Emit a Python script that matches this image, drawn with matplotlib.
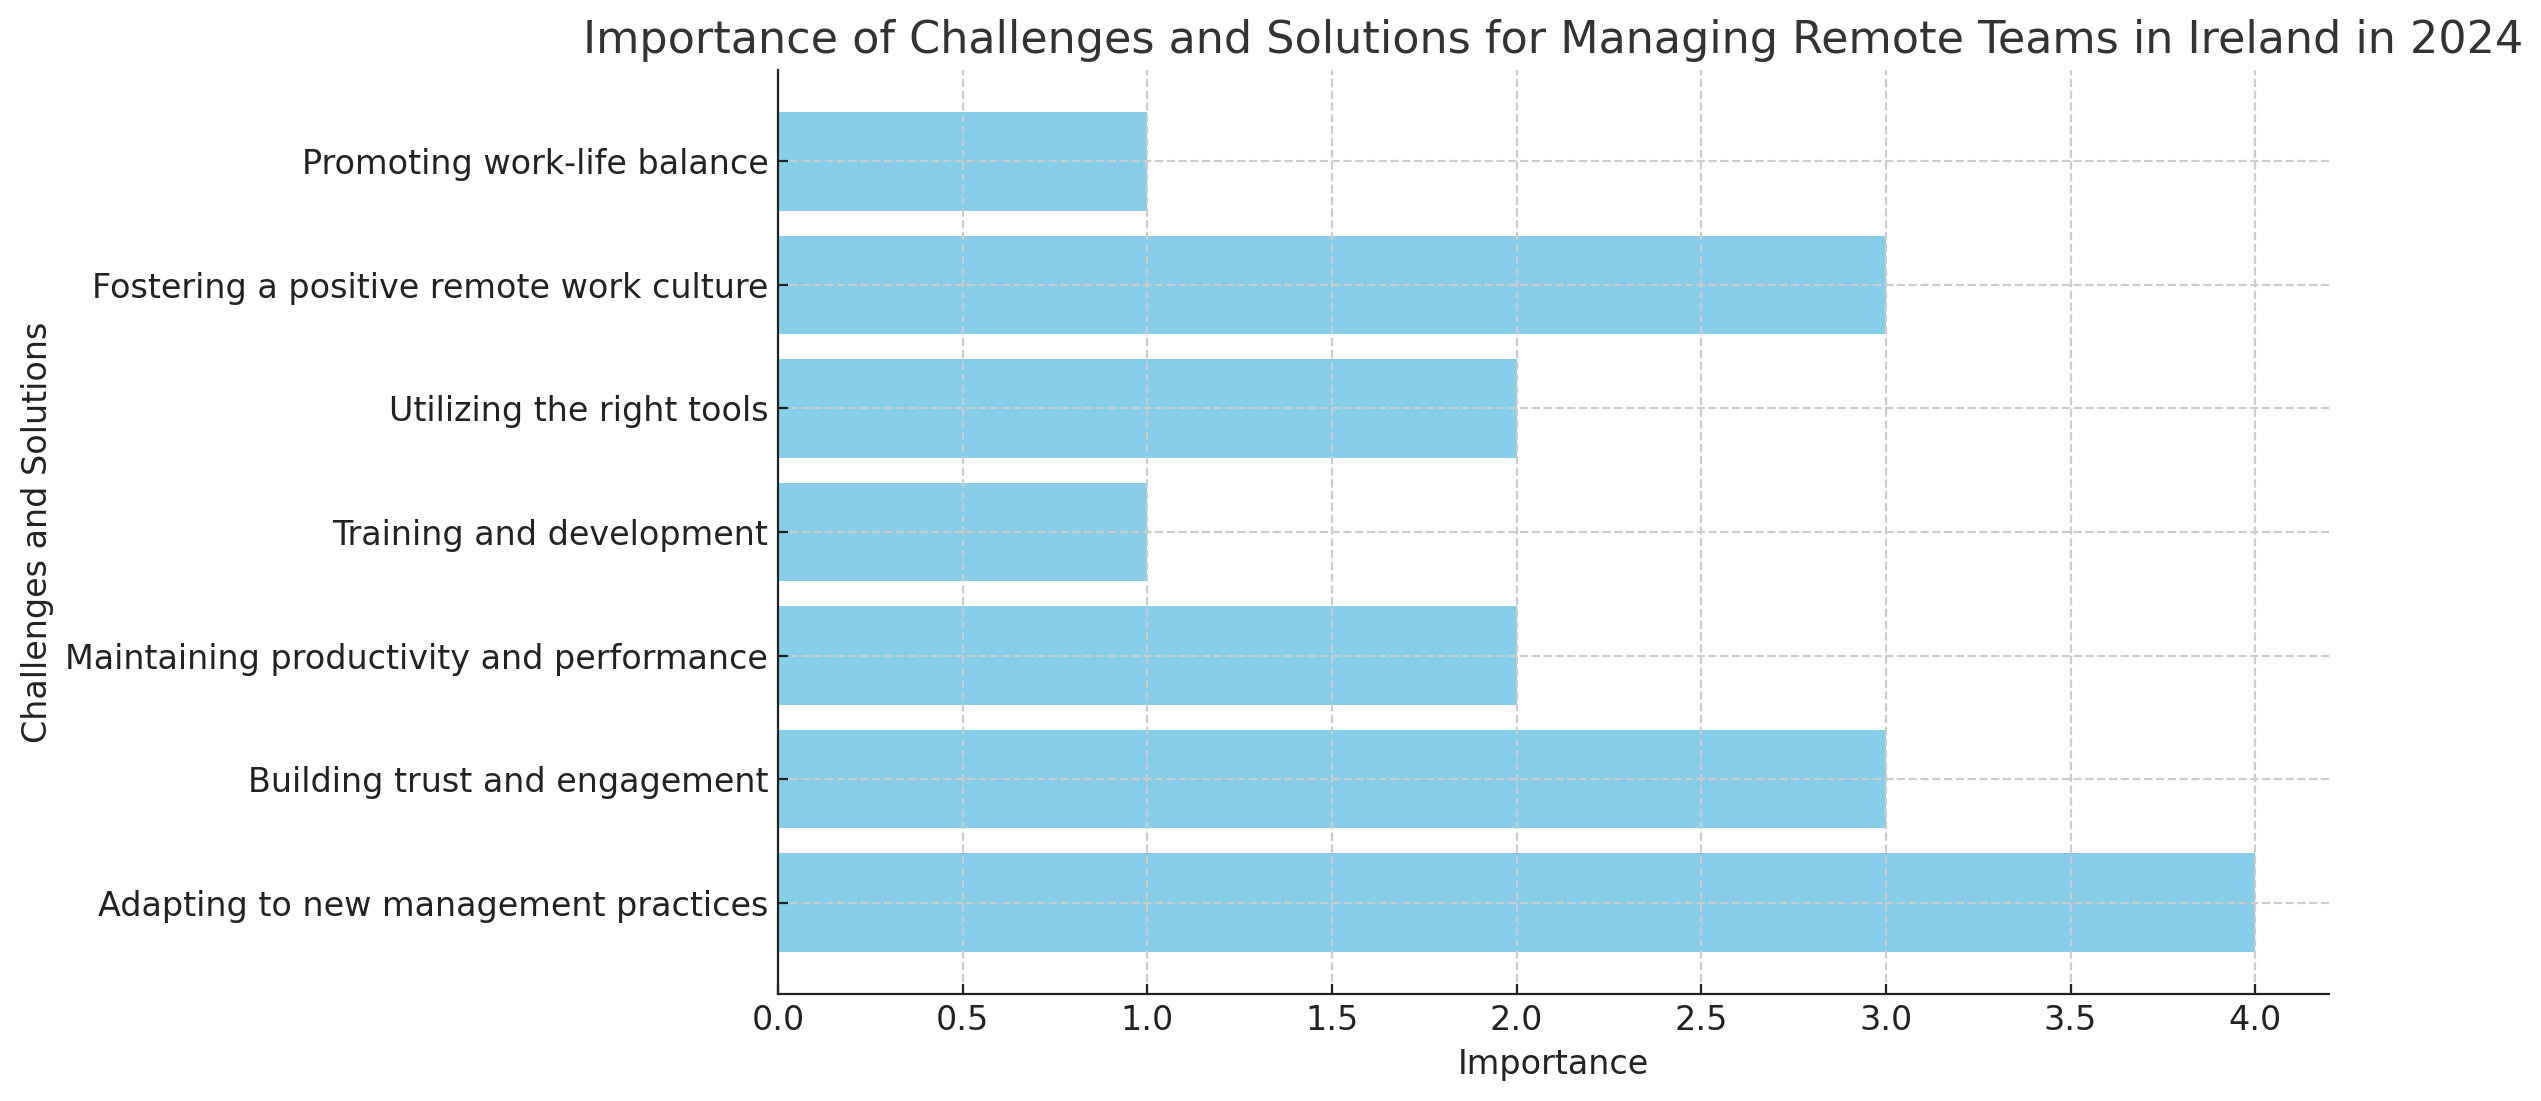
import matplotlib
matplotlib.use("Agg")
import matplotlib.pyplot as plt

# categories listed bottom -> top, as barh draws them
categories = [
    "Adapting to new management practices",
    "Building trust and engagement",
    "Maintaining productivity and performance",
    "Training and development",
    "Utilizing the right tools",
    "Fostering a positive remote work culture",
    "Promoting work-life balance",
]
importance = [4, 3, 2, 1, 2, 3, 1]

fig = plt.figure(figsize=(12.705, 5.505), dpi=200)
ax = fig.add_axes([778 / 2541, 1 - 994 / 1101, (2329 - 778) / 2541, (994 - 70) / 1101])

ax.barh(categories, importance, color="skyblue", zorder=1)

ax.grid(True, linestyle="--", color="#cccccc", linewidth=0.8, zorder=2)
ax.set_axisbelow(False)

for sp in ("top", "right"):
    ax.spines[sp].set_visible(False)
for sp in ("left", "bottom"):
    ax.spines[sp].set_zorder(5)
    ax.spines[sp].set_color("#222222")

ax.tick_params(direction="in", labelsize=12, labelcolor="#222222", color="#222222")
ax.set_xlabel("Importance", fontsize=12, color="#222222")
ax.set_ylabel("Challenges and Solutions", fontsize=12, color="#222222")
ax.set_title("Importance of Challenges and Solutions for Managing Remote Teams in Ireland in 2024",
             fontsize=16, color="#333333")

fig.savefig("out.png", dpi=200)
